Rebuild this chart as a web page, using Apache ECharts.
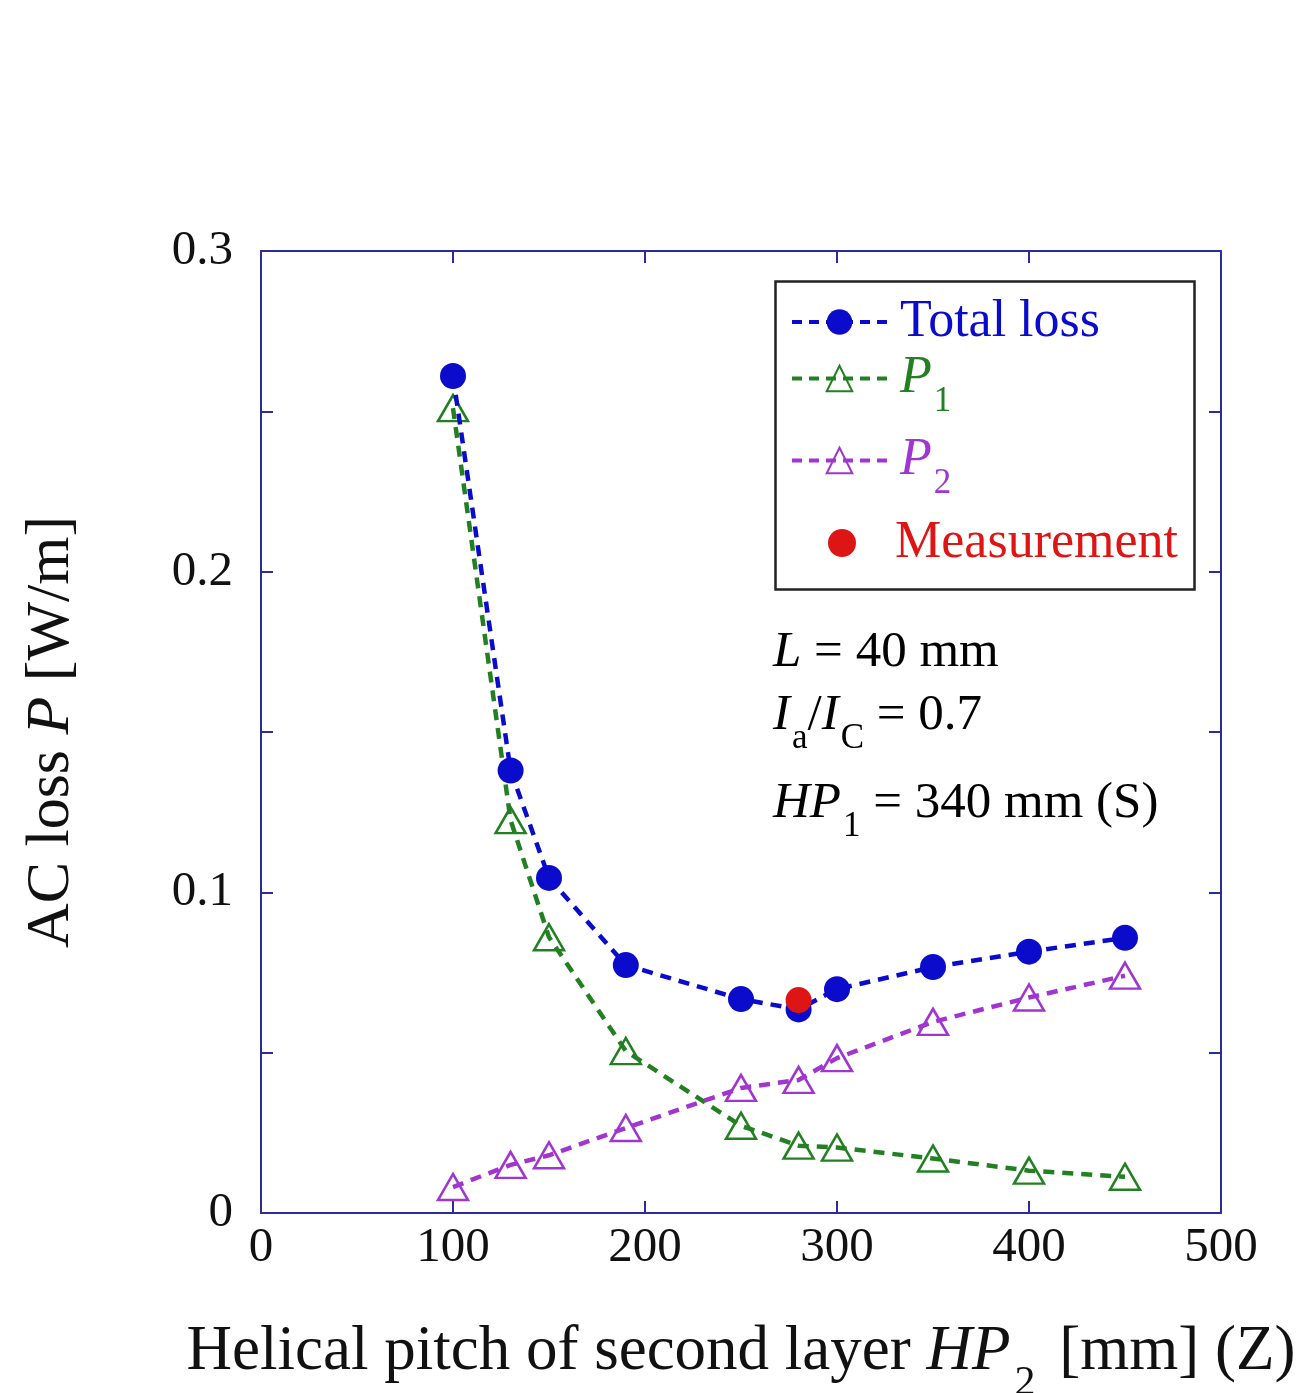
<!DOCTYPE html>
<html>
<head>
<meta charset="utf-8">
<script src="https://cdn.jsdelivr.net/npm/echarts@6/dist/echarts.min.js"></script>
<style>
html,body{margin:0;padding:0;background:#fff;}
#chart{width:1299px;height:1393px;}
</style>
</head>
<body>
<div id="chart"></div>
<script>
// Data (helical pitch HP2 in mm, AC loss in W/m)
const pitch = [100, 130, 150, 190, 250, 280, 300, 350, 400, 450];
const totalLoss = [0.261, 0.138, 0.1045, 0.0773, 0.0667, 0.0635, 0.0698, 0.0767, 0.0815, 0.0858];
const p1Loss = [0.251, 0.1225, 0.086, 0.0505, 0.0272, 0.021, 0.0204, 0.017, 0.0132, 0.0113];
const p2Loss = [0.0081, 0.015, 0.018, 0.0265, 0.039, 0.0415, 0.0483, 0.0596, 0.0672, 0.074];
const measPitch = [280];
const measLoss = [0.0664];
const xTicks = [0, 100, 200, 300, 400, 500];
const yTickLabels = ['0', '0.1', '0.2', '0.3'];

const BLUE = '#0B0BCC', GREEN = '#228022', PURPLE = '#A035D0', RED = '#DD1515';
const AXIS = '#2B2B9A';
const FONT = '"Liberation Serif", "Times New Roman", serif';

const zip = (xs, ys) => xs.map((x, i) => [x, ys[i]]);

const chart = echarts.init(document.getElementById('chart'));

const subRich = (color, fs) => ({
  i: {fontFamily: FONT, fontSize: fs, fontStyle: 'italic', lineHeight: fs, color: color},
  s: {fontFamily: FONT, fontSize: 35, lineHeight: 35, padding: [46, 0, 0, 2], color: color},
  n: {fontFamily: FONT, fontSize: fs, lineHeight: fs, color: color}
});

function legendFor(name, left, top, color, itemWidth, itemHeight, textPad, fmt) {
  return {
    data: [{name: name}],
    left: left, top: top,
    orient: 'vertical',
    padding: 0,
    itemWidth: itemWidth, itemHeight: itemHeight,
    itemGap: 0,
    selectedMode: false,
    formatter: fmt,
    lineStyle: {width: 4, type: [10, 7]},
    textStyle: {fontFamily: FONT, fontSize: 52, lineHeight: 52, color: color, padding: [0, 0, 0, textPad], rich: subRich(color, 52)}
  };
}

const axisCommon = {
  axisLine: {show: true, onZero: false, lineStyle: {color: AXIS, width: 2}},
  axisTick: {show: true, inside: true, length: 12, lineStyle: {color: AXIS, width: 2}},
  splitLine: {show: false}
};

const option = {
  backgroundColor: '#ffffff',
  animation: false,
  grid: {left: 261, right: 78, top: 251, bottom: 180, containLabel: false, outerBoundsMode: 'none'},
  xAxis: [
    Object.assign({}, axisCommon, {
      type: 'value', min: 0, max: 500, interval: 100, position: 'bottom',
      axisLabel: {fontFamily: FONT, fontSize: 49, color: '#111', margin: 11,
        formatter: v => xTicks.indexOf(v) >= 0 ? String(v) : ''},
      name: '{n|Helical pitch of second layer }{i|HP}{s|2}{n| [mm] (Z)}',
      nameLocation: 'middle', nameGap: 108,
      nameTextStyle: {rich: {
        n: {fontFamily: FONT, fontSize: 63, lineHeight: 63, color: '#111'},
        i: {fontFamily: FONT, fontSize: 63, lineHeight: 63, fontStyle: 'italic', color: '#111'},
        s: {fontFamily: FONT, fontSize: 42, lineHeight: 42, padding: [62, 8, 0, 4], color: '#111'}
      }}
    }),
    Object.assign({}, axisCommon, {
      type: 'value', min: 0, max: 500, interval: 100, position: 'top',
      axisLabel: {show: false}
    })
  ],
  yAxis: [
    Object.assign({}, axisCommon, {
      type: 'value', min: 0, max: 0.3, interval: 0.05, position: 'left',
      axisLabel: {fontFamily: FONT, fontSize: 49, color: '#111', margin: 28,
        formatter: v => {
          const k = Math.round(v * 100);
          return k % 10 === 0 ? yTickLabels[k / 10] : '';
        }},
      name: 'AC loss {i|P} [W/m]',
      nameLocation: 'middle', nameRotate: 90, nameGap: 178,
      nameTextStyle: {fontFamily: FONT, fontSize: 62, color: '#111',
        rich: {i: {fontFamily: FONT, fontSize: 62, fontStyle: 'italic', color: '#111'}}}
    }),
    Object.assign({}, axisCommon, {
      type: 'value', min: 0, max: 0.3, interval: 0.05, position: 'right',
      axisLabel: {show: false}
    })
  ],
  legend: [
    legendFor('Total loss', 790, 296, BLUE, 95, 32, 8, n => n),
    legendFor('P1', 790, 338, GREEN, 95, 32, 8, () => '{i|P}{s|1}'),
    legendFor('P2', 790, 420, PURPLE, 95, 32, 8, () => '{i|P}{s|2}'),
    legendFor('Measurement', 828, 517, RED, 28, 28, 34, n => n)
  ],
  graphic: [
    {type: 'rect', left: 773, top: 279, z: 100, silent: true,
      shape: {width: 419, height: 308},
      style: {fill: 'none', stroke: '#222', lineWidth: 2.5}},
    {type: 'text', left: 773, top: 627, z: 100, silent: true,
      style: {text: '{i|L}{n| = 40 mm}', rich: subRich('#111', 51)}},
    {type: 'text', left: 773, top: 675, z: 100, silent: true,
      style: {text: '{i|I}{s|a}{n|/}{i|I}{s|C}{n| = 0.7}', rich: subRich('#111', 51)}},
    {type: 'text', left: 773, top: 763, z: 100, silent: true,
      style: {text: '{i|HP}{s|1}{n| = 340 mm (S)}', rich: subRich('#111', 51)}}
  ],
  series: [
    {
      name: 'Total loss', type: 'line', data: zip(pitch, totalLoss),
      symbol: 'circle', symbolSize: 26, z: 3,
      lineStyle: {color: BLUE, width: 4.5, type: [11, 8]},
      itemStyle: {color: BLUE}
    },
    {
      name: 'P1', type: 'line', data: zip(pitch, p1Loss),
      symbol: 'triangle', symbolSize: [30, 26], z: 2,
      lineStyle: {color: GREEN, width: 4.5, type: [11, 8]},
      itemStyle: {color: 'rgba(255,255,255,0)', borderColor: GREEN, borderWidth: 2.5}
    },
    {
      name: 'P2', type: 'line', data: zip(pitch, p2Loss),
      symbol: 'triangle', symbolSize: [30, 26], z: 2,
      lineStyle: {color: PURPLE, width: 4.5, type: [11, 8]},
      itemStyle: {color: 'rgba(255,255,255,0)', borderColor: PURPLE, borderWidth: 2.5}
    },
    {
      name: 'Measurement', type: 'scatter', data: zip(measPitch, measLoss),
      symbol: 'circle', symbolSize: 26, z: 5,
      itemStyle: {color: RED, opacity: 1}
    }
  ]
};
chart.setOption(option);
</script>
</body>
</html>
